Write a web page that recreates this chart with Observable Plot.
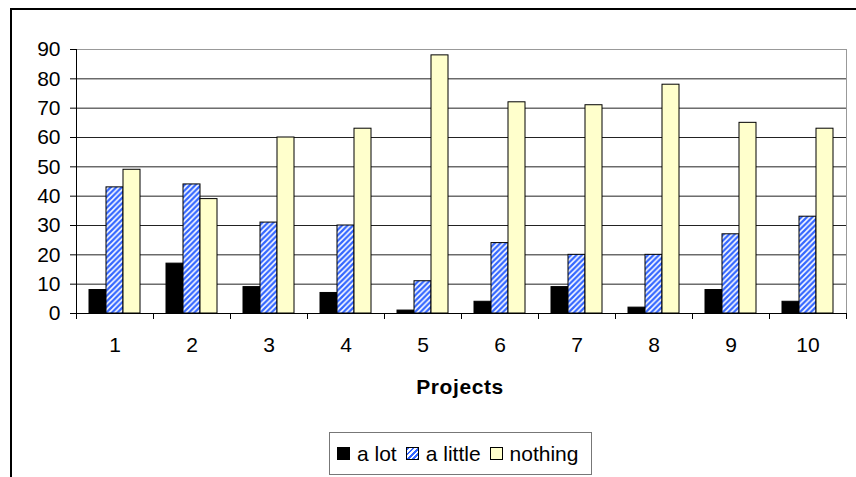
<!DOCTYPE html>
<html><head><meta charset="utf-8">
<script src="https://cdn.jsdelivr.net/npm/d3@7"></script>
<script src="https://cdn.jsdelivr.net/npm/@observablehq/plot@0.6"></script>
<style>
body{margin:0;background:#fff;font-family:"Liberation Sans",Arial,sans-serif;}
#wrap{position:relative;width:856px;height:477px;overflow:hidden;background:#fff;}
#frame{position:absolute;left:10px;top:8px;width:900px;height:520px;border-top:2px solid #000;border-left:2px solid #000;}
#chart{position:absolute;left:0;top:0;}
#xlabel{position:absolute;left:360px;top:376px;width:200px;text-align:center;font-size:21px;line-height:21px;font-weight:bold;letter-spacing:0.6px;color:#000;}
#legend{position:absolute;left:329px;top:432px;width:263px;height:43px;box-sizing:border-box;border:1.5px solid #777;display:flex;align-items:center;padding-left:7px;font-size:21px;line-height:21px;color:#000;}
.sw{width:13px;height:13px;box-sizing:border-box;border:1px solid #000;margin-right:7px;flex:none;}
.lt{margin-right:9px;white-space:nowrap;}
</style></head><body>
<div id="wrap"><div id="frame"></div><div id="chart"></div><div id="xlabel"></div><div id="legend"></div></div>
<script>
const projects = ["1","2","3","4","5","6","7","8","9","10"];
const series = ["a lot","a little","nothing"];
const aLot    = [8, 17, 9, 7, 1, 4, 9, 2, 8, 4];
const aLittle = [43, 44, 31, 30, 11, 24, 20, 20, 27, 33];
const nothing = [49, 39, 60, 63, 88, 72, 71, 78, 65, 63];
const yTicks = [0,10,20,30,40,50,60,70,80,90];
const xTitle = "Projects";
const seriesFills = ["#000000","url(#hatch)","#ffffcc"];
const legendFills = ["#000000","repeating-linear-gradient(135deg,#3366ff 0 2px,#fff 2px 3.6px)","#ffffcc"];

const values = [aLot, aLittle, nothing];
const data = projects.flatMap((p,i)=>series.map((s,j)=>({project:p, series:s, value:values[j][i]})));

const chart = Plot.plot({
  width:856, height:477, marginLeft:75, marginRight:9, marginTop:49, marginBottom:164,
  style:{fontFamily:'"Liberation Sans",Arial,sans-serif', fontSize:"21px", color:"#000", background:"transparent", overflow:"visible"},
  fx:{domain:projects, padding:0, axis:"bottom", tickSize:0, tickPadding:24, label:null},
  x:{domain:series, paddingInner:0, paddingOuter:0.73, axis:null},
  y:{domain:[0,90], ticks:yTicks, tickSize:6, tickPadding:10, label:null},
  color:{type:"ordinal", domain:series, range:seriesFills},
  marks:[
    Plot.gridY(yTicks.filter(t=>t>0&&t<90), {stroke:"#222", strokeOpacity:1}),
    Plot.gridY([90], {stroke:"#999", strokeOpacity:1}),
    Plot.barY(data,{fx:"project", x:"series", y:"value", fill:"series", stroke:"#000", strokeWidth:1}),
    Plot.ruleY([0],{stroke:"#000"})
  ]
});
document.getElementById("chart").appendChild(chart);
const svg = d3.select(chart.tagName.toLowerCase()==="svg" ? chart : chart.querySelector("svg"));
svg.insert("defs", ":first-child").html(
  '<pattern id="hatch" patternUnits="userSpaceOnUse" width="5.5" height="5.5">' +
  '<rect width="5.5" height="5.5" fill="#fff"/>' +
  '<path d="M-1,1L1,-1M0,5.5L5.5,0M4.5,6.5L6.5,4.5" stroke="#3366ff" stroke-width="2.3"/></pattern>');

const fx = chart.scale("fx"), y = chart.scale("y");
const y0 = y.apply(0), y1 = y.apply(90);
const bounds = projects.map(p=>fx.apply(p)).concat([fx.apply(projects[projects.length-1]) + fx.bandwidth]);
const g = svg.append("g").attr("stroke","#000").attr("stroke-width",1);
g.selectAll("line.b").data(bounds).join("line").attr("class","b")
  .attr("x1",d=>Math.round(d)+0.5).attr("x2",d=>Math.round(d)+0.5).attr("y1",y0).attr("y2",y0+6);
g.append("line").attr("x1",Math.round(bounds[0])+0.5).attr("x2",Math.round(bounds[0])+0.5).attr("y1",y1).attr("y2",y0+6);
g.append("line").attr("stroke","#999").attr("x1",Math.round(bounds[bounds.length-1])+0.5).attr("x2",Math.round(bounds[bounds.length-1])+0.5).attr("y1",y1).attr("y2",y0);

document.getElementById("xlabel").textContent = xTitle;
const lg = document.getElementById("legend");
series.forEach((s,i)=>{
  const sw = document.createElement("span"); sw.className="sw"; sw.style.background = legendFills[i];
  const t = document.createElement("span"); t.className="lt"; t.textContent = s;
  lg.appendChild(sw); lg.appendChild(t);
});
</script>
</body></html>
